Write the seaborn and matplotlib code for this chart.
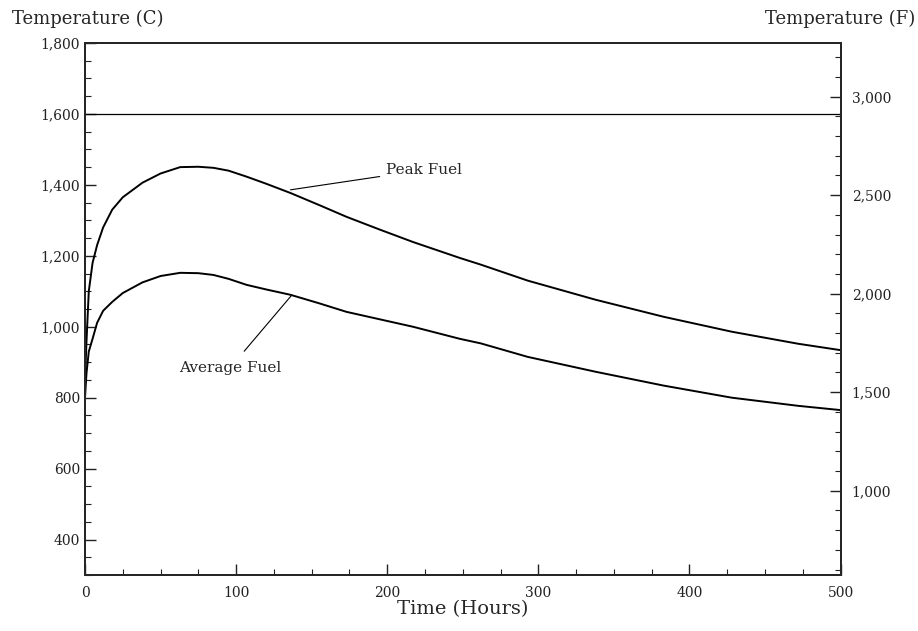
import numpy as np
import pandas as pd
import matplotlib
matplotlib.use("Agg")
import matplotlib.pyplot as plt
from matplotlib.ticker import MultipleLocator, FuncFormatter
import seaborn as sns

# ---- data ----
hours = [0, 1, 2.5, 5, 8, 12, 18, 25, 38, 50, 63, 75, 85, 95, 107, 120, 136, 155, 173, 195, 217, 248, 262, 293, 338, 383, 428, 472, 500]
peak_fuel = [850, 960, 1100, 1180, 1230, 1280, 1330, 1365, 1406, 1432, 1450, 1451, 1448, 1440, 1423, 1403, 1377, 1343, 1310, 1274, 1239, 1194, 1175, 1130, 1076, 1028, 986, 952, 934]
avg_fuel = [800, 870, 930, 966, 1011, 1045, 1070, 1095, 1125, 1143, 1152, 1151, 1146, 1135, 1118, 1105, 1090, 1066, 1042, 1021, 1000, 966, 953, 915, 873, 834, 800, 777, 765]
limit_c = 1600

x_ticks = [0, 100, 200, 300, 400, 500]
c_ticks = [400, 600, 800, 1000, 1200, 1400, 1600, 1800]
f_ticks = [1000, 1500, 2000, 2500, 3000]

df = pd.DataFrame({
    "Time": hours * 2,
    "Temp": peak_fuel + avg_fuel,
    "Series": ["Peak Fuel"] * len(hours) + ["Average Fuel"] * len(hours),
})

sns.set_style("ticks")
plt.rcParams["font.family"] = ["DejaVu Serif"]

fig = plt.figure(figsize=(9.18, 6.31), dpi=100)
ax = fig.add_axes([0.0926, 0.0887, 0.823, 0.8432])

sns.lineplot(data=df, x="Time", y="Temp", units="Series", estimator=None,
             color="black", lw=1.4, ax=ax, legend=False)
ax.axhline(limit_c, color="black", lw=0.9)

ax.set_xlim(0, 500)
ax.set_ylim(300, 1800)
ax.xaxis.set_minor_locator(MultipleLocator(25))
ax.yaxis.set_minor_locator(MultipleLocator(50))
ax.set_xticks(x_ticks)
ax.set_yticks(c_ticks)
fmt = FuncFormatter(lambda v, p: f"{v:,.0f}")
ax.yaxis.set_major_formatter(fmt)
ax.tick_params(which="both", direction="in", top=False, right=False, labelsize=10, colors="#222222")
ax.tick_params(which="major", length=8, width=1)
ax.tick_params(which="minor", length=4, width=0.8)
ax.tick_params(axis="x", pad=8)
ax.set_xlabel("Time (Hours)", fontsize=14, labelpad=0)
ax.set_ylabel("")
for s in ax.spines.values():
    s.set_linewidth(1.4)
    s.set_visible(True)

ax2 = ax.twinx()
ax2.set_ylim(300 * 9 / 5 + 32, 1800 * 9 / 5 + 32)
ax2.set_yticks(f_ticks)
ax2.yaxis.set_minor_locator(MultipleLocator(100))
ax2.yaxis.set_major_formatter(fmt)
ax2.tick_params(which="both", direction="in", labelsize=10, colors="#222222", pad=8)
ax2.tick_params(which="major", length=8, width=1)
ax2.tick_params(which="minor", length=4, width=0.8)
for s in ax2.spines.values():
    s.set_linewidth(1.4)

fig.text(0.013, 0.955, "Temperature (C)", fontsize=13, ha="left", va="bottom")
fig.text(0.997, 0.955, "Temperature (F)", fontsize=13, ha="right", va="bottom")

ax.annotate("Peak Fuel", xy=(136, 1386), xytext=(199, 1442),
            fontsize=11, va="center", ha="left",
            arrowprops=dict(arrowstyle="-", color="black", lw=0.8, shrinkA=2, shrinkB=0))
ax.annotate("Average Fuel", xy=(136.4, 1087), xytext=(96, 884),
            fontsize=11, va="center", ha="center",
            arrowprops=dict(arrowstyle="-", color="black", lw=0.8, shrinkA=6, shrinkB=0))

fig.savefig("out.png", dpi=100)
